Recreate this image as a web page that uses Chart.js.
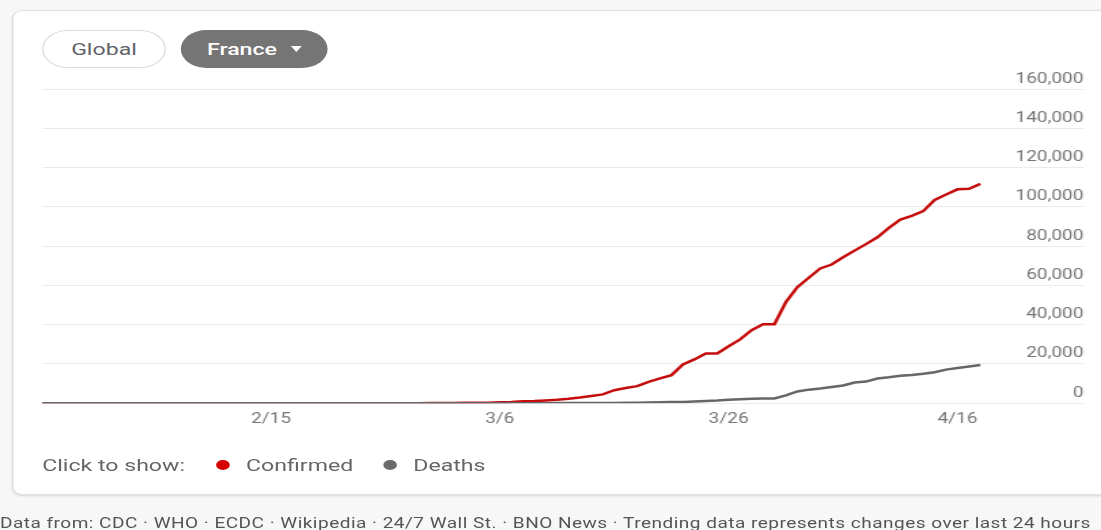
<!DOCTYPE html>
<html>
<head>
<meta charset="utf-8">
<script src="https://cdn.jsdelivr.net/npm/chart.js@4.4.1/dist/chart.umd.min.js"></script>
<style>
html, body { margin: 0; padding: 0; width: 1101px; height: 530px; overflow: hidden; background: #f7f7f7; font-family: Roboto, Arial, sans-serif; }
/* the reference is stretched sideways, so lay out at 810px and widen */
#stage { position: absolute; left: 0; top: 0; width: 810px; height: 530px; transform: scaleX(1.3593); transform-origin: 0 0; }
.card { position: absolute; left: 9px; top: 10px; width: 840px; height: 483px; background: #fff; border: 1px solid #e3e3e3; border-radius: 8px; box-shadow: 0 1px 2px rgba(0,0,0,.14); }
.pill { position: absolute; top: 30px; height: 38px; box-sizing: border-box; border-radius: 19px; font-size: 17px; line-height: 38px; text-align: center; }
#global { left: 31px; width: 91px; border: 1px solid #dadce0; color: #5f6368; background: #fff; line-height: 36px; }
#france { left: 133px; width: 108px; background: #757575; color: #fff; font-weight: 500; }
.tri { display: inline-block; width: 0; height: 0; border-left: 4.5px solid transparent; border-right: 4.5px solid transparent; border-top: 6px solid #fff; margin-left: 10px; vertical-align: middle; position: relative; top: -2px; }
#chart { position: absolute; left: 0; top: 70px; }
.lg { position: absolute; top: 455px; height: 20px; line-height: 20px; font-size: 17px; color: #666; white-space: nowrap; }
.dot { position: absolute; top: 460px; width: 10px; height: 10px; border-radius: 50%; }
#footer { position: absolute; left: 0; top: 515px; font-size: 14px; letter-spacing: 0.35px; color: #555; white-space: nowrap; }
</style>
</head>
<body>
<div id="stage">
  <div class="card"></div>
  <div class="pill" id="global">Global</div>
  <div class="pill" id="france">France<span class="tri"></span></div>
  <canvas id="chart" width="810" height="366"></canvas>
  <div class="lg" style="left:31px">Click to show:</div>
  <div id="legend"></div>
  <div id="footer">Data from: CDC · WHO · ECDC · Wikipedia · 24/7 Wall St. · BNO News · Trending data represents changes over last 24 hours</div>
</div>
<script>
// day index 0 = first day shown, one point per day
const tickDays = [20, 40, 60, 80];
const tickLabels = ['2/15', '3/6', '3/26', '4/16'];

const confirmed = [
  3, 3, 4, 5, 5, 6, 6, 6, 6, 6,
  6, 11, 11, 11, 11, 11, 11, 11, 11, 11,
  12, 12, 12, 12, 12, 12, 12, 12, 12, 12,
  12, 14, 18, 38, 57, 100, 130, 191, 212, 285,
  423, 613, 949, 1126, 1412, 1784, 2281, 2876, 3661, 4499,
  6600, 7730, 8700, 10850, 12600, 14300, 19700, 22300, 25300, 25300,
  29000, 32500, 37200, 40200, 40200, 51500, 59100, 63900, 68600, 70600,
  74300, 77700, 81000, 84500, 89300, 93500, 95400, 97800, 103500, 106300,
  108900, 109200, 111700
];
const deaths = [
  0, 0, 0, 0, 0, 0, 0, 0, 0, 0,
  0, 0, 0, 0, 0, 0, 0, 0, 0, 0,
  1, 1, 1, 1, 1, 1, 1, 1, 1, 1,
  1, 2, 2, 2, 2, 2, 2, 3, 4, 6,
  9, 16, 19, 30, 33, 48, 61, 79, 91, 127,
  148, 175, 264, 372, 450, 562, 674, 860, 1100, 1331,
  1700, 2000, 2300, 2400, 2400, 4000, 6000, 6900, 7500, 8300,
  9000, 10500, 11000, 12600, 13200, 14000, 14400, 15000, 15800, 17100,
  17900, 18700, 19400
];

const seriesNames = ['Confirmed', 'Deaths'];
const lineColors = ['#c40c0c', '#666666'];
const dotColors = ['#d50000', '#6b6b6b'];

const pts = arr => arr.map((v, i) => ({ x: i, y: v }));

// legend row
const legend = document.getElementById('legend');
const dotLeft = [159, 282], textLeft = [181, 304];
seriesNames.forEach((name, i) => {
  legend.insertAdjacentHTML('beforeend',
    '<div class="dot" style="left:' + dotLeft[i] + 'px;background:' + dotColors[i] + '"></div>' +
    '<div class="lg" style="left:' + textLeft[i] + 'px">' + name + '</div>');
});

const tickFont = { family: 'Roboto', size: 14 };

new Chart(document.getElementById('chart'), {
  type: 'line',
  data: {
    datasets: [
      { label: seriesNames[0], data: pts(confirmed), borderColor: lineColors[0], borderWidth: 2.5, pointRadius: 0, tension: 0, order: 2 },
      { label: seriesNames[1], data: pts(deaths), borderColor: lineColors[1], borderWidth: 2.5, pointRadius: 0, tension: 0, order: 1 }
    ]
  },
  options: {
    responsive: false,
    animation: false,
    layout: { padding: { left: 31, right: 13, top: 19, bottom: 0 } },
    plugins: { legend: { display: false }, tooltip: { enabled: false } },
    scales: {
      x: {
        type: 'linear', min: 0, max: 91,
        afterBuildTicks: s => { s.ticks = tickDays.map(v => ({ value: v })); },
        grid: { display: false, drawTicks: false },
        border: { display: false },
        ticks: {
          padding: 8, color: '#757575', font: tickFont, maxRotation: 0, autoSkip: false,
          callback: v => tickLabels[tickDays.indexOf(v)]
        }
      },
      y: {
        position: 'right', min: 0, max: 160000,
        grid: { color: '#ebebeb', drawTicks: false },
        border: { display: false },
        ticks: {
          stepSize: 20000, mirror: true, padding: 0, labelOffset: -10,
          color: '#757575', font: tickFont,
          callback: v => v.toLocaleString('en-US')
        }
      }
    }
  }
});
</script>
</body>
</html>
